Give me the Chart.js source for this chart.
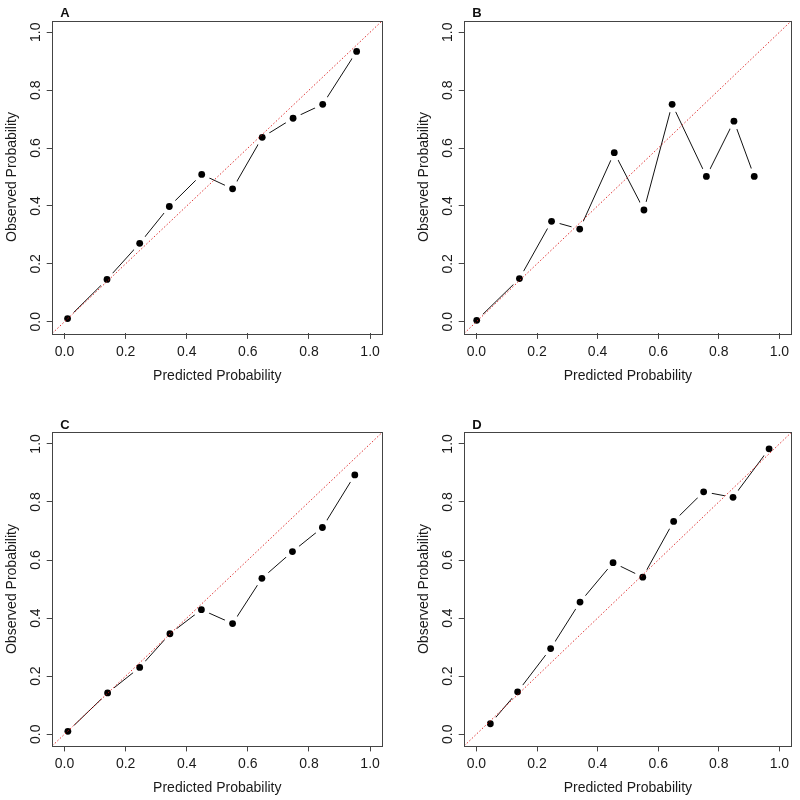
<!DOCTYPE html>
<html><head><meta charset="utf-8">
<script src="https://cdn.jsdelivr.net/npm/chart.js@4"></script>
<style>
html,body{margin:0;padding:0;background:#fff;}
#wrap{position:relative;width:800px;height:800px;background:#fff;}
canvas{position:absolute;}
</style></head><body>
<div id="wrap">
<canvas id="cA" width="400" height="400" style="left:0;top:0"></canvas>
<canvas id="cB" width="400" height="400" style="left:400px;top:0"></canvas>
<canvas id="cC" width="400" height="400" style="left:0;top:400px"></canvas>
<canvas id="cD" width="400" height="400" style="left:400px;top:400px"></canvas>
</div>
<script>
const panelLabels = ['A', 'B', 'C', 'D'];
const predA = [0.010, 0.139, 0.246, 0.343, 0.449, 0.550, 0.647, 0.748, 0.845, 0.956];
const obsA  = [0.011, 0.146, 0.271, 0.398, 0.509, 0.459, 0.637, 0.703, 0.751, 0.934];
const predB = [0.001, 0.142, 0.248, 0.341, 0.455, 0.553, 0.646, 0.759, 0.850, 0.917];
const obsB  = [0.005, 0.149, 0.347, 0.320, 0.584, 0.386, 0.751, 0.502, 0.693, 0.502];
const predC = [0.011, 0.141, 0.246, 0.345, 0.448, 0.550, 0.646, 0.746, 0.844, 0.950];
const obsC  = [0.010, 0.142, 0.230, 0.346, 0.429, 0.381, 0.537, 0.629, 0.712, 0.893];
const predD = [0.046, 0.136, 0.245, 0.342, 0.451, 0.549, 0.651, 0.750, 0.847, 0.966];
const obsD  = [0.036, 0.146, 0.295, 0.455, 0.591, 0.541, 0.733, 0.835, 0.816, 0.983];
const tickValues = [0, 0.2, 0.4, 0.6, 0.8, 1.0];
const tickLabels = ['0.0', '0.2', '0.4', '0.6', '0.8', '1.0'];
const axisRange = [-0.04, 1.04];
const xTitle = 'Predicted Probability';
const yTitle = 'Observed Probability';

const FONT = '"Liberation Sans", Arial, sans-serif';
const TEXT = '#1a1a1a';
const FRAME = '#444';

const framePlugin = {
  id: 'frame',
  afterDraw(chart, args, opts) {
    const {ctx, chartArea: a} = chart;
    ctx.save();
    ctx.strokeStyle = FRAME;
    ctx.lineWidth = 1;
    ctx.strokeRect(Math.round(a.left) + 0.5, Math.round(a.top) + 0.5,
                   Math.round(a.right - a.left), Math.round(a.bottom - a.top));
    ctx.fillStyle = '#111';
    ctx.font = 'bold 13px ' + FONT;
    ctx.textAlign = 'left';
    ctx.textBaseline = 'alphabetic';
    ctx.fillText(opts.label, a.left + 8, a.top - 3.5);
    ctx.restore();
  }
};

function makePanel(id, label, pred, obs, pad) {
  const pts = pred.map((p, i) => ({x: p, y: obs[i]}));
  const diag = axisRange.map(v => ({x: v, y: v}));
  new Chart(document.getElementById(id), {
    type: 'scatter',
    data: {
      datasets: [
        { data: diag, showLine: true, borderColor: 'rgba(220,30,30,0.9)', borderWidth: 1,
          borderDash: [1.5, 2], pointRadius: 0 },
        { data: pts, showLine: false, pointRadius: 3.4, pointBackgroundColor: '#000',
          pointBorderWidth: 0, pointBorderColor: '#000' },
        { data: pts, showLine: true, borderColor: '#111', borderWidth: 1,
          pointRadius: 8.5, pointBackgroundColor: '#fff', pointBorderWidth: 0,
          pointBorderColor: '#fff' }
      ]
    },
    options: {
      responsive: false,
      animation: false,
      devicePixelRatio: 1,
      events: [],
      layout: { padding: pad },
      plugins: { legend: { display: false }, tooltip: { enabled: false }, frame: { label: label } },
      scales: {
        x: {
          type: 'linear', min: axisRange[0], max: axisRange[1],
          afterBuildTicks: s => { s.ticks = tickValues.map(v => ({value: v})); },
          afterFit: s => { s.height = 50.8; },
          border: { display: false },
          grid: { display: true, drawOnChartArea: false, drawTicks: true, tickLength: 5.6, color: FRAME },
          ticks: { autoSkip: false, maxRotation: 0, minRotation: 0, padding: 4.4, color: TEXT,
                   font: { family: FONT, size: 14 }, callback: (v, i) => tickLabels[i] },
          title: { display: true, text: xTitle, color: TEXT, padding: 0,
                   font: { family: FONT, size: 14 } }
        },
        y: {
          type: 'linear', min: axisRange[0], max: axisRange[1],
          afterBuildTicks: s => { s.ticks = tickValues.map(v => ({value: v})); },
          afterFit: s => { s.width = 48.2; },
          border: { display: false },
          grid: { display: true, drawOnChartArea: false, drawTicks: true, tickLength: 5.6, color: FRAME },
          ticks: { autoSkip: false, minRotation: 90, maxRotation: 90, crossAlign: 'center',
                   padding: 1.3, color: TEXT, font: { family: FONT, size: 14 },
                   callback: (v, i) => tickLabels[i] },
          title: { display: true, text: yTitle, color: TEXT, padding: 0,
                   font: { family: FONT, size: 14 } }
        }
      }
    },
    plugins: [framePlugin]
  });
}

makePanel('cA', panelLabels[0], predA, obsA, {left: 4.1, right: 17.7, top: 20.7, bottom: 15.9});
makePanel('cB', panelLabels[1], predB, obsB, {left: 16.1, right: 5.7, top: 20.7, bottom: 15.9});
makePanel('cC', panelLabels[2], predC, obsC, {left: 4.1, right: 17.7, top: 32.3, bottom: 3.4});
makePanel('cD', panelLabels[3], predD, obsD, {left: 16.1, right: 5.7, top: 32.3, bottom: 3.4});
</script>
</body></html>
